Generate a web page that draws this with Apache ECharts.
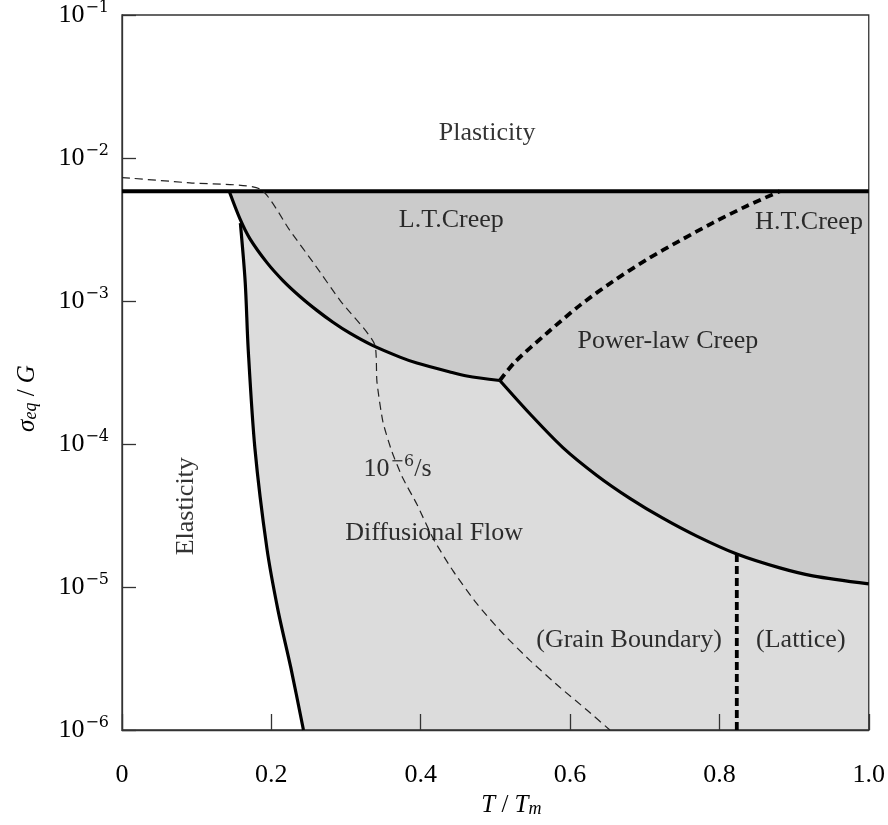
<!DOCTYPE html>
<html lang="en">
<head>
  <meta charset="UTF-8">
  <title>Deformation mechanism map</title>
  <script src="https://cdn.jsdelivr.net/npm/echarts@6/dist/echarts.min.js"></script>
  <style>
    html, body, #chart {
      width: 100%;
      height: 100%;
      margin: 0;
      padding: 0;
      background: #fff;
    }
  </style>
</head>
<body>
  <div id="chart"></div>
  <script>
    // all points are [T/Tm, sigma/G]
    const plasticityLine = [[0, 5.85e-3], [1.0, 5.85e-3]]
    const ltBoundary = [[0.1436, 5.85e-3], [0.158, 3.75e-3], [0.1714, 2.72e-3], [0.1941, 1.855e-3], [0.2155, 1.39e-3],
      [0.2383, 1.076e-3], [0.261, 8.6e-4], [0.2825, 7.1e-4], [0.3052, 5.95e-4], [0.3347, 4.91e-4], [0.3722, 4.05e-4],
      [0.3949, 3.68e-4], [0.4391, 3.19e-4], [0.4618, 2.99e-4], [0.506, 2.78e-4]]
    const powerLawBoundary = [[0.506, 2.78e-4], [0.5462, 1.627e-4], [0.5904, 9.44e-5], [0.6359, 6.03e-5], [0.6801, 4.17e-5],
      [0.7242, 3.03e-5], [0.7697, 2.27e-5], [0.8233, 1.7e-5], [0.8809, 1.36e-5], [0.925, 1.197e-5], [1.0, 1.052e-5]]
    const htBoundary = [[0.506, 2.78e-4], [0.5261, 3.74e-4], [0.5689, 5.95e-4], [0.6131, 9.32e-4], [0.6573, 1.37e-3],
      [0.7028, 1.95e-3], [0.747, 2.64e-3], [0.7912, 3.52e-3], [0.8367, 4.62e-3], [0.8809, 5.85e-3]]
    const latticeBoundary = [[0.8233, 1.7e-5], [0.8233, 1e-6]]
    const elasticBoundary = [[0.1585, 3.5e-3], [0.165, 1.35e-3], [0.169, 4.6e-4], [0.178, 9.3e-5], [0.194, 1.87e-5],
      [0.209, 6.84e-6], [0.226, 2.74e-6], [0.243, 1e-6]]
    // 10^-6/s strain-rate contour
    const strainRate = [[0, 7.3e-3], [0.091, 6.7e-3], [0.185, 6.07e-3], [0.225, 3.1e-3], [0.258, 1.8e-3], [0.292, 1.01e-3],
      [0.3387, 4.91e-4], [0.3414, 2.72e-4], [0.3494, 1.43e-4], [0.3614, 8.85e-5], [0.3762, 5.75e-5], [0.3949, 3.79e-5],
      [0.4163, 2.2e-5], [0.4431, 1.3e-5], [0.4752, 7.64e-6], [0.51, 4.73e-6], [0.5462, 3.07e-6], [0.5863, 1.99e-6],
      [0.6225, 1.38e-6], [0.6533, 1e-6]]

    const regionNames = ['Plasticity', 'L.T.Creep', 'H.T.Creep', 'Power-law Creep', 'Diffusional Flow', '(Grain Boundary)', '(Lattice)']
    const regionT = [0.489, 0.441, 0.920, 0.731, 0.418, 0.679, 0.909]
    const regionS = [1.49e-2, 3.69e-3, 3.58e-3, 5.24e-4, 2.38e-5, 4.23e-6, 4.23e-6]
    const elasticityLabel = [0.0866, 3.67e-5]
    const rateLabel = [0.369, 6.7e-5]

    const FONT = 'Liberation Serif'
    const INK = '#000'
    const TOP = plasticityLine[0][1]

    const darkRegion = [ltBoundary[0], [1.0, TOP]]
      .concat(powerLawBoundary.slice().reverse())
      .concat(ltBoundary.slice(1, -1).reverse())
    const lightRegion = [elasticBoundary[0]]
      .concat(ltBoundary.filter(p => p[0] > elasticBoundary[0][0]))
      .concat(powerLawBoundary.slice(1))
      .concat([[1.0, 1e-6]])
      .concat(elasticBoundary.slice(1).reverse())
    const regions = [darkRegion, lightRegion]
    const regionColors = ['#cbcbcb', '#dcdcdc']

    const supRich = {
      b: { fontFamily: FONT, fontSize: 26, color: INK, lineHeight: 30 },
      s: { fontFamily: 'DejaVu Serif', fontSize: 16, color: INK, verticalAlign: 'top', lineHeight: 30, padding: [0, 0, 0, 1] }
    }
    const nameRich = {
      i: { fontFamily: FONT, fontStyle: 'italic', fontSize: 25, color: INK },
      n: { fontFamily: FONT, fontSize: 25, color: INK },
      sub: { fontFamily: FONT, fontStyle: 'italic', fontSize: 18, color: INK, verticalAlign: 'bottom', lineHeight: 22 }
    }

    function line(data, width, type, smooth, color) {
      return {
        type: 'line',
        data,
        symbol: 'none',
        smooth: smooth || false,
        silent: true,
        z: 3,
        lineStyle: { color: color || '#000', width, type: type || 'solid', cap: 'butt' }
      }
    }

    const chart = echarts.init(document.getElementById('chart'))
    chart.setOption({
      animation: false,
      backgroundColor: '#fff',
      grid: {
        left: 122, right: 19, top: 11, bottom: 95,
        show: true, borderColor: '#333', borderWidth: 1.3, backgroundColor: 'transparent'
      },
      xAxis: {
        type: 'value',
        min: 0, max: 1.0, interval: 0.2,
        axisLine: { lineStyle: { color: '#333', width: 1.3 } },
        axisTick: { inside: true, length: 16, lineStyle: { color: '#333', width: 1.3 } },
        splitLine: { show: false },
        axisLabel: {
          margin: 32,
          fontFamily: FONT, fontSize: 26, color: INK,
          formatter: v => v === 0 ? '0' : v.toFixed(1)
        },
        name: '{i|T}{n| / }{i|T}{sub|m}',
        nameLocation: 'middle',
        nameGap: 62,
        nameTextStyle: { padding: [0, 0, 0, 32], rich: nameRich }
      },
      yAxis: {
        type: 'log',
        logBase: 10,
        min: 1e-6, max: 1e-1,
        splitNumber: 5,
        axisLine: { show: true, lineStyle: { color: '#333', width: 1.3 } },
        axisTick: { show: true, inside: true, length: 14, lineStyle: { color: '#333', width: 1.3 } },
        splitLine: { show: false },
        axisLabel: {
          margin: 13,
          formatter: v => '{b|10}{s|\u2212' + Math.abs(Math.round(Math.log10(v))) + '}',
          rich: supRich
        },
        name: '{i|\u03c3}{sub|eq}{n| / }{i|G}',
        nameLocation: 'middle',
        nameGap: 82,
        nameTextStyle: { padding: [0, 52, 0, 0], rich: nameRich }
      },
      series: [
        {
          type: 'custom',
          silent: true,
          z: -1,
          data: regions.map((r, i) => [r[0][0], r[0][1], i]),
          renderItem: function (params, api) {
            const idx = api.value(2)
            return {
              type: 'polygon',
              shape: { points: regions[idx].map(p => api.coord(p)) },
              style: { fill: regionColors[idx], stroke: null }
            }
          }
        },
        line(plasticityLine, 4),
        line(ltBoundary, 3.2, 'solid', 0.3),
        line(powerLawBoundary, 3.2, 'solid', 0.3),
        line(elasticBoundary, 3.2, 'solid', 0.3),
        line(htBoundary, 3.8, [8, 5], 0.3),
        line(latticeBoundary, 3.8, [8, 4]),
        line(strainRate, 1.2, [8, 5], 0.2, '#222'),
        {
          type: 'scatter',
          silent: true,
          z: 5,
          symbolSize: 1,
          itemStyle: { color: 'transparent' },
          label: {
            show: true,
            position: 'inside',
            fontFamily: FONT,
            fontSize: 26,
            color: INK,
            formatter: p => p.name
          },
          data: regionNames.map((n, i) => ({ name: n, value: [regionT[i], regionS[i]] })).concat([
            { name: 'Elasticity', value: elasticityLabel, label: { rotate: 90 } },
            {
              name: '10-6/s', value: rateLabel,
              label: { formatter: '{b|10}{s|\u22126}{b|/s}', rich: supRich }
            }
          ])
        }
      ]
    })
  </script>
</body>
</html>
